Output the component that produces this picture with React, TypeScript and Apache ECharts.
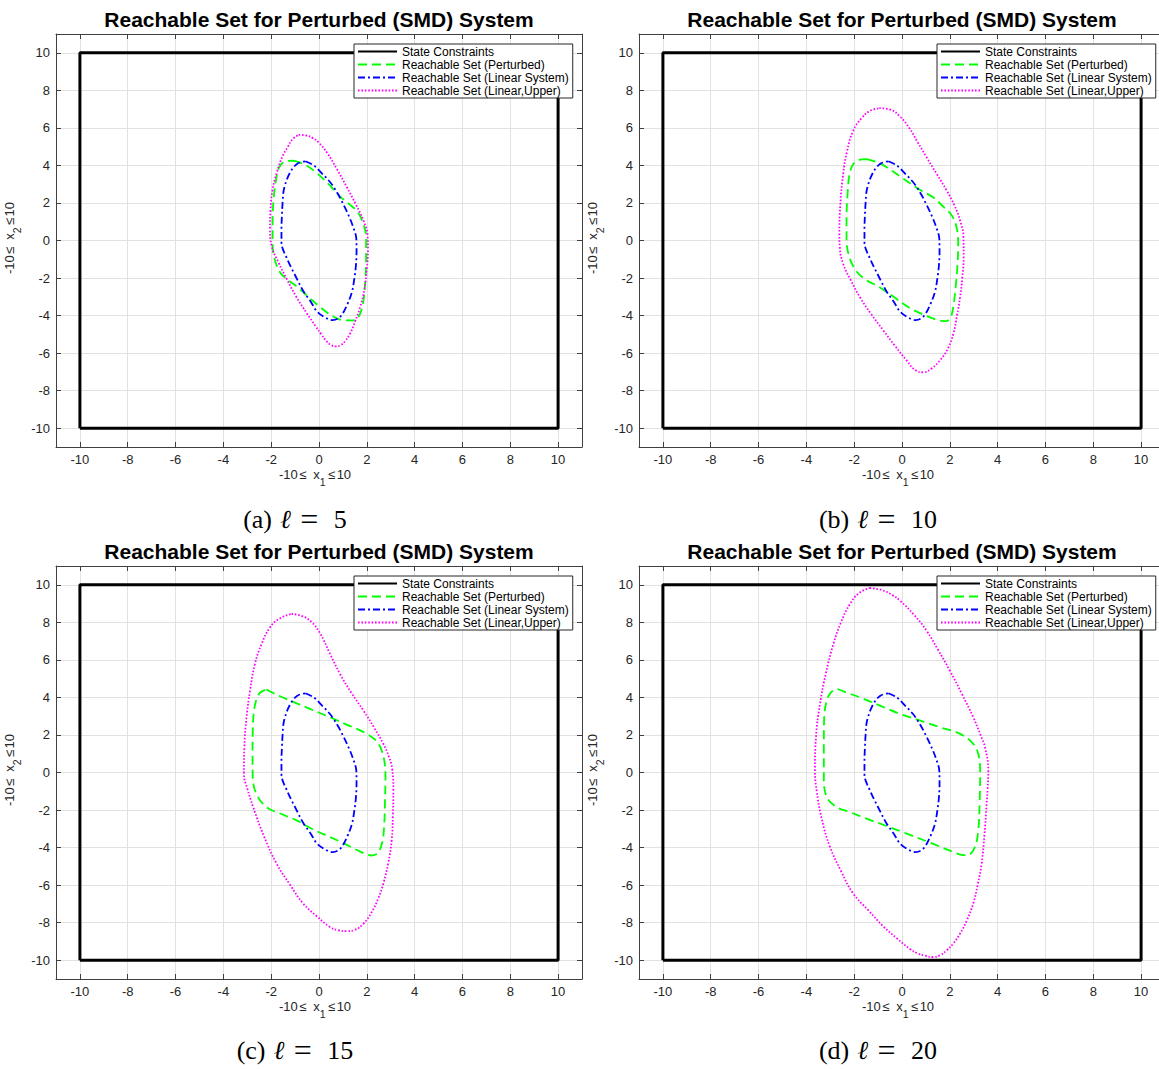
import React, { useEffect, useRef } from 'react';
import * as echarts from 'echarts';

// ---------- data ----------
const tickValues = [-10, -8, -6, -4, -2, 0, 2, 4, 6, 8, 10];
const axisMin = -11;
const axisMax = 11;

const seriesNames = [
  'State Constraints',
  'Reachable Set (Perturbed)',
  'Reachable Set (Linear System)',
  'Reachable Set (Linear,Upper)',
];
const panelTitle = 'Reachable Set for Perturbed (SMD) System';
const captionLetters = ['(a)', '(b)', '(c)', '(d)'];
const ellValues = ['5', '10', '15', '20'];

const constraintBox = [[-10, -10], [-10, 10], [10, 10], [10, -10], [-10, -10]];

// linear system reachable set (same in all panels)
const linearSet = [
  [-0.57, 4.22], [-0.22, 4.0], [0.1, 3.6], [0.47, 3.1], [0.78, 2.5], [1.03, 1.9], [1.25, 1.3],
  [1.42, 0.75], [1.56, 0.1], [1.57, -0.6], [1.54, -1.4], [1.47, -2.1], [1.38, -2.73], [1.17, -3.44],
  [0.89, -4.06], [0.57, -4.24], [0.25, -4.1], [-0.08, -3.79], [-0.35, -3.25], [-0.64, -2.73],
  [-1.0, -1.85], [-1.34, -0.96], [-1.57, -0.1], [-1.57, 0.6], [-1.55, 1.35], [-1.52, 2.05],
  [-1.46, 2.77], [-1.22, 3.6], [-0.92, 4.08], [-0.57, 4.22],
];

// perturbed reachable sets
const perturbedL5 = [
  [-1.07, 4.25], [-0.6, 4.05], [-0.1, 3.6], [0.4, 3.0], [0.88, 2.35], [1.3, 1.9], [1.6, 1.55],
  [1.85, 0.9], [1.97, 0.2], [1.97, -1.0], [1.93, -2.2], [1.86, -3.2], [1.72, -3.9], [1.5, -4.25],
  [1.05, -4.25], [0.6, -4.05], [0.1, -3.6], [-0.4, -3.05], [-0.88, -2.5], [-1.3, -2.1], [-1.6, -1.75],
  [-1.84, -1.06], [-1.94, -0.2], [-1.94, 1.0], [-1.9, 2.2], [-1.8, 3.2], [-1.68, 3.85], [-1.45, 4.2],
  [-1.07, 4.25],
];
const perturbedL10 = [
  [-1.48, 4.34], [-1.0, 4.15], [-0.64, 3.9], [0.05, 3.3], [0.75, 2.7], [1.3, 2.3], [1.73, 1.8],
  [2.1, 1.3], [2.3, 0.6], [2.35, -0.3], [2.32, -1.3], [2.25, -2.4], [2.15, -3.5], [2.05, -4.05],
  [1.85, -4.3], [1.4, -4.2], [0.9, -3.95], [0.33, -3.6], [-0.3, -3.05], [-0.92, -2.5], [-1.5, -2.1],
  [-1.9, -1.65], [-2.2, -0.9], [-2.32, 0.1], [-2.32, 1.2], [-2.28, 2.4], [-2.2, 3.5], [-2.05, 4.05],
  [-1.8, 4.3], [-1.48, 4.34],
];
const perturbedL15 = [
  [-2.2, 4.42], [-1.7, 4.1], [-1.21, 3.83], [-0.4, 3.4], [0.46, 2.94], [1.25, 2.5], [2.0, 2.06],
  [2.48, 1.55], [2.72, 0.7], [2.78, -0.25], [2.76, -1.5], [2.73, -2.73], [2.65, -3.7], [2.45, -4.3],
  [2.2, -4.42], [1.7, -4.2], [1.0, -3.75], [0.46, -3.44], [-0.3, -3.0], [-0.93, -2.55], [-1.6, -2.2],
  [-2.19, -1.85], [-2.6, -1.2], [-2.77, -0.3], [-2.78, 1.0], [-2.77, 2.23], [-2.7, 3.45], [-2.5, 4.2],
  [-2.2, 4.42],
];
const perturbedL20 = [
  [-2.7, 4.45], [-2.3, 4.25], [-1.76, 4.0], [-0.9, 3.55], [-0.08, 3.12], [0.8, 2.75], [1.59, 2.41],
  [2.43, 2.06], [2.98, 1.53], [3.19, 0.99], [3.27, 0.1], [3.25, -1.5], [3.19, -3.09], [3.05, -3.97],
  [2.75, -4.4], [2.55, -4.4], [2.15, -4.24], [1.2, -3.75], [0.2, -3.26], [-0.65, -2.85], [-1.48, -2.46],
  [-2.2, -2.1], [-2.73, -1.85], [-3.15, -1.31], [-3.27, -0.25], [-3.27, 1.3], [-3.26, 2.77],
  [-3.15, 3.83], [-2.95, 4.3], [-2.7, 4.45],
];

// linear upper reachable sets
const upperL5 = [
  [-0.85, 5.63], [-0.55, 5.6], [-0.25, 5.45], [0.0, 5.2], [0.35, 4.65], [0.75, 3.8], [1.16, 2.85],
  [1.55, 1.9], [1.86, 1.06], [2.03, 0.3], [2.05, -0.5], [2.0, -1.5], [1.9, -2.6], [1.72, -3.55],
  [1.5, -4.35], [1.3, -4.96], [1.1, -5.35], [0.9, -5.58], [0.7, -5.64], [0.5, -5.56], [0.3, -5.35],
  [0.1, -5.0], [-0.15, -4.55], [-0.5, -3.9], [-0.95, -3.0], [-1.35, -2.05], [-1.7, -1.15],
  [-1.98, -0.3], [-2.05, 0.6], [-2.03, 1.6], [-1.95, 2.65], [-1.77, 3.6], [-1.52, 4.5],
  [-1.3, 5.0], [-1.1, 5.4], [-0.85, 5.63],
];
const upperL10 = [
  [-0.95, 7.05], [-0.45, 6.95], [-0.08, 6.6], [0.3, 6.0], [0.65, 5.25], [1.03, 4.43], [1.45, 3.55],
  [1.87, 2.66], [2.2, 1.85], [2.43, 1.06], [2.57, 0.2], [2.58, -0.9], [2.52, -2.0], [2.43, -3.02],
  [2.3, -4.0], [2.15, -4.96], [1.92, -5.75], [1.59, -6.38], [1.25, -6.8], [0.9, -7.02], [0.55, -6.9],
  [0.2, -6.4], [-0.3, -5.6], [-0.78, -4.79], [-1.3, -3.9], [-1.76, -3.02], [-2.15, -2.1],
  [-2.46, -1.24], [-2.6, -0.4], [-2.62, 0.35], [-2.58, 1.9], [-2.46, 3.55], [-2.3, 4.75],
  [-2.04, 5.85], [-1.7, 6.5], [-1.35, 6.9], [-0.95, 7.05],
];
const upperL15 = [
  [-1.15, 8.45], [-0.7, 8.33], [-0.3, 8.0], [0.05, 7.4], [0.45, 6.35], [0.88, 5.25], [1.35, 4.25],
  [1.86, 3.3], [2.3, 2.4], [2.69, 1.53], [2.92, 0.85], [3.06, 0.2], [3.11, -0.96], [3.09, -2.3],
  [3.04, -3.62], [2.9, -4.8], [2.69, -5.92], [2.48, -6.7], [2.2, -7.45], [1.86, -8.05], [1.5, -8.38],
  [1.16, -8.45], [0.8, -8.4], [0.46, -8.23], [-0.1, -7.65], [-0.66, -6.98], [-1.2, -6.0],
  [-1.77, -4.86], [-2.3, -3.4], [-2.75, -1.85], [-3.0, -0.85], [-3.14, -0.07], [-3.12, 1.4],
  [-3.03, 2.94], [-2.88, 4.4], [-2.68, 5.78], [-2.4, 6.85], [-2.05, 7.73], [-1.65, 8.2], [-1.15, 8.45],
];
const upperL20 = [
  [-1.35, 9.83], [-0.85, 9.72], [-0.4, 9.45], [-0.08, 9.15], [0.5, 8.4], [1.03, 7.55], [1.5, 6.55],
  [2.0, 5.43], [2.5, 4.2], [2.98, 2.94], [3.3, 1.95], [3.47, 1.35], [3.61, 0.1], [3.58, -0.9],
  [3.54, -1.67], [3.45, -3.3], [3.33, -4.86], [3.17, -5.95], [2.98, -6.98], [2.72, -7.85],
  [2.43, -8.58], [2.15, -9.1], [1.87, -9.47], [1.6, -9.72], [1.31, -9.83], [0.95, -9.75],
  [0.63, -9.62], [0.33, -9.4], [-0.2, -8.85], [-0.78, -8.2], [-1.4, -7.35], [-2.04, -6.45],
  [-2.55, -5.25], [-3.01, -3.97], [-3.35, -2.5], [-3.57, -0.96], [-3.64, 0.1], [-3.6, 1.85],
  [-3.43, 3.65], [-3.18, 5.3], [-2.87, 6.84], [-2.55, 8.0], [-2.18, 8.97], [-1.8, 9.55], [-1.35, 9.83],
];

const perturbedSets = [perturbedL5, perturbedL10, perturbedL15, perturbedL20];
const upperSets = [upperL5, upperL10, upperL15, upperL20];

// ---------- layout / style ----------
const sansFont = "'Liberation Sans', Arial, Helvetica, sans-serif";
const serifFont = "'Liberation Serif', 'DejaVu Serif', 'Times New Roman', serif";
const GRID_W = 526;
const GRID_H = 413;
const panels = [
  { left: 56, top: 34, capX: 295, capY: 519 },
  { left: 639, top: 34, capX: 878, capY: 519 },
  { left: 56, top: 566, capX: 295, capY: 1050 },
  { left: 639, top: 566, capX: 878, capY: 1050 },
];
const axisColor = '#404040';
const labelColor = '#262626';
const gridColor = '#e2e2e2';

function buildOption() {
  const grid: any[] = [];
  const xAxis: any[] = [];
  const yAxis: any[] = [];
  const legend: any[] = [];
  const series: any[] = [];
  const graphic: any[] = [];

  const axisLineCfg = { show: true, onZero: false, lineStyle: { color: axisColor, width: 1 } };
  const tickCfg = { show: true, inside: true, length: 5, customValues: tickValues, lineStyle: { color: axisColor, width: 1 } };
  const tickLabelCfg = { show: true, customValues: tickValues, margin: 6, color: labelColor, fontSize: 13, fontFamily: sansFont };

  panels.forEach((p, i) => {
    grid.push({ left: p.left, top: p.top, width: GRID_W, height: GRID_H, containLabel: false, outerBoundsMode: 'none' });

    xAxis.push({
      gridIndex: i, type: 'value', min: axisMin, max: axisMax, position: 'bottom',
      axisLine: axisLineCfg, axisTick: tickCfg, axisLabel: tickLabelCfg,
      splitLine: { show: true, lineStyle: { color: gridColor, width: 1 } },
    });
    xAxis.push({
      gridIndex: i, type: 'value', min: axisMin, max: axisMax, position: 'top',
      axisLine: axisLineCfg, axisTick: tickCfg,
      axisLabel: { show: false }, splitLine: { show: false },
    });
    yAxis.push({
      gridIndex: i, type: 'value', min: axisMin, max: axisMax, position: 'left',
      axisLine: axisLineCfg, axisTick: tickCfg, axisLabel: tickLabelCfg,
      splitLine: { show: true, lineStyle: { color: gridColor, width: 1 } },
    });
    yAxis.push({
      gridIndex: i, type: 'value', min: axisMin, max: axisMax, position: 'right',
      axisLine: axisLineCfg, axisTick: tickCfg,
      axisLabel: { show: false }, splitLine: { show: false },
    });

    const xi = i * 2;
    const base = { type: 'line', xAxisIndex: xi, yAxisIndex: xi, symbol: 'none', showSymbol: false, silent: true, animation: false };
    series.push({ ...base, name: seriesNames[0], data: constraintBox, smooth: false, z: 3,
      lineStyle: { color: '#000000', width: 3, type: 'solid' }, itemStyle: { color: '#000000' } });
    series.push({ ...base, name: seriesNames[1], data: perturbedSets[i], smooth: 0.35, z: 4,
      lineStyle: { color: '#00ff00', width: 1.8, type: [9, 5] }, itemStyle: { color: '#00ff00' } });
    series.push({ ...base, name: seriesNames[2], data: linearSet, smooth: 0.35, z: 5,
      lineStyle: { color: '#0000ff', width: 1.8, type: [7, 3, 2, 3] }, itemStyle: { color: '#0000ff' } });
    series.push({ ...base, name: seriesNames[3], data: upperSets[i], smooth: 0.45, z: 6,
      lineStyle: { color: '#ff00ff', width: 1.8, type: [1.6, 1.8] }, itemStyle: { color: '#ff00ff' } });

    legend.push({
      show: true, orient: 'vertical', left: p.left + 298, top: p.top + 10,
      itemWidth: 39, itemHeight: 13, itemGap: 0, padding: [1, 4, 1, 3],
      backgroundColor: '#ffffff', borderColor: '#262626', borderWidth: 1, borderRadius: 0,
      selectedMode: false, align: 'left',
      itemStyle: { opacity: 0, borderWidth: 0 },
      textStyle: { fontSize: 12, lineHeight: 13, color: '#000000', fontFamily: sansFont },
      data: [
        { name: seriesNames[0], lineStyle: { width: 2 } },
        seriesNames[1], seriesNames[2], seriesNames[3],
      ],
    });

    // title
    graphic.push({
      type: 'text', x: p.left + GRID_W / 2, y: p.top - 15, silent: true,
      style: { text: panelTitle, fontSize: 21, fontWeight: 'bold', fontFamily: sansFont, fill: '#000000', align: 'center', verticalAlign: 'middle' },
    });

    const richName = (sub: string) => ({
      text: `{a|-10}{le|≤}{n| x}{s|${sub}}{le|≤}{a|10}`,
      fill: labelColor,
      align: 'center',
      verticalAlign: 'top',
      rich: {
        a: { fontSize: 13, fontFamily: sansFont, fill: labelColor, lineHeight: 14 },
        le: { fontSize: 13, fontFamily: sansFont, fill: labelColor, lineHeight: 14, width: 10, align: 'center' },
        n: { fontSize: 13, fontFamily: sansFont, fill: labelColor, lineHeight: 14, padding: [0, 0, 0, 2] },
        s: { fontSize: 10.5, fontFamily: sansFont, fill: labelColor, lineHeight: 12, padding: [16, 1, 0, 0] },
      },
    });
    // x axis name
    graphic.push({ type: 'text', x: p.left + 259, y: p.top + 433, silent: true, style: richName('1') });
    // y axis name
    graphic.push({ type: 'text', x: p.left - 54, y: p.top + 204, rotation: Math.PI / 2, silent: true, style: richName('2') });

    // caption
    graphic.push({
      type: 'text', x: p.capX, y: p.capY, silent: true,
      style: {
        text: `{p|${captionLetters[i]}}{g1| }{l|ℓ}{g2| }{e|=}{g3| }{n|${ellValues[i]}}`,
        fill: '#000000', align: 'center', verticalAlign: 'middle',
        rich: {
          p: { fontSize: 26, fontFamily: serifFont, fill: '#000000', lineHeight: 30 },
          g1: { fontSize: 26, fontFamily: serifFont, width: 8, lineHeight: 30 },
          l: { fontSize: 26, fontFamily: serifFont, fontStyle: 'italic', fill: '#000000', lineHeight: 30 },
          g2: { fontSize: 26, fontFamily: serifFont, width: 5, lineHeight: 30 },
          e: { fontSize: 32, fontFamily: serifFont, width: 27, align: 'center', fill: '#000000', lineHeight: 30 },
          g3: { fontSize: 26, fontFamily: serifFont, width: 11, lineHeight: 30 },
          n: { fontSize: 26, fontFamily: serifFont, fill: '#000000', lineHeight: 30 },
        },
      },
    });
  });

  return {
    animation: false,
    backgroundColor: '#ffffff',
    grid, xAxis, yAxis, legend, series, graphic,
  };
}

export default function App() {
  const ref = useRef<HTMLDivElement | null>(null);
  useEffect(() => {
    if (!ref.current) return;
    document.body.style.margin = '0';
    const chart = echarts.init(ref.current, undefined, { renderer: 'svg' });
    chart.setOption(buildOption() as any);
    return () => chart.dispose();
  }, []);
  return (
    <div
      ref={ref}
      style={{ position: 'absolute', left: 0, top: 0, width: 1159, height: 1069, background: '#ffffff' }}
    />
  );
}
